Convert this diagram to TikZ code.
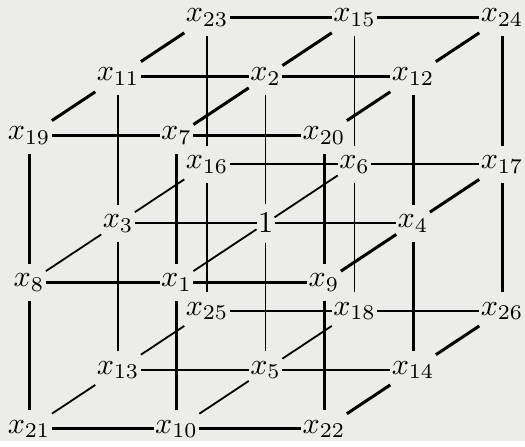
\documentclass[tikz,border=0pt]{standalone}
\usepackage{amsmath,amssymb}
\usepackage{xcolor}
\usepackage{tikz}
\definecolor{GrisFondo}{RGB}{236,236,233}

\begin{document}
\begin{tikzpicture}[x={(1.725cm,0cm)},y={(0cm,1.714cm)},z={(1.041cm,0.690cm)},
  vert/.style={inner xsep=0.3pt,inner ysep=3pt},
  gruesa/.style={line width=1pt},
  fina/.style={line width=0.6pt}]
  \fill[GrisFondo] (-0.34cm,-0.14cm) rectangle (5.80cm,5.01cm);
  \node[vert] (x19) at (0,2,0) {$x_{19}$};
  \node[vert] (x7) at (1,2,0) {$x_{7}$};
  \node[vert] (x20) at (2,2,0) {$x_{20}$};
  \node[vert] (x8) at (0,1,0) {$x_{8}$};
  \node[vert] (x1) at (1,1,0) {$x_{1}$};
  \node[vert] (x9) at (2,1,0) {$x_{9}$};
  \node[vert] (x21) at (0,0,0) {$x_{21}$};
  \node[vert] (x10) at (1,0,0) {$x_{10}$};
  \node[vert] (x22) at (2,0,0) {$x_{22}$};
  \node[vert] (x11) at (0,2,1) {$x_{11}$};
  \node[vert] (x2) at (1,2,1) {$x_{2}$};
  \node[vert] (x12) at (2,2,1) {$x_{12}$};
  \node[vert] (x3) at (0,1,1) {$x_{3}$};
  \node[vert] (uno) at (1,1,1) {$1$};
  \node[vert] (x4) at (2,1,1) {$x_{4}$};
  \node[vert] (x13) at (0,0,1) {$x_{13}$};
  \node[vert] (x5) at (1,0,1) {$x_{5}$};
  \node[vert] (x14) at (2,0,1) {$x_{14}$};
  \node[vert] (x23) at (0,2,2) {$x_{23}$};
  \node[vert] (x15) at (1,2,2) {$x_{15}$};
  \node[vert] (x24) at (2,2,2) {$x_{24}$};
  \node[vert] (x16) at (0,1,2) {$x_{16}$};
  \node[vert] (x6) at (1,1,2) {$x_{6}$};
  \node[vert] (x17) at (2,1,2) {$x_{17}$};
  \node[vert] (x25) at (0,0,2) {$x_{25}$};
  \node[vert] (x18) at (1,0,2) {$x_{18}$};
  \node[vert] (x26) at (2,0,2) {$x_{26}$};
  \draw[gruesa] (x19)--(x7)--(x20);
  \draw[gruesa] (x11)--(x2)--(x12);
  \draw[gruesa] (x23)--(x15)--(x24);
  \draw[gruesa] (x8)--(x1)--(x9);
  \draw[gruesa] (x21)--(x10)--(x22);
  \draw[fina] (x3)--(uno)--(x4);
  \draw[fina] (x16)--(x6)--(x17);
  \draw[fina] (x13)--(x5)--(x14);
  \draw[fina] (x25)--(x18)--(x26);
  \draw[gruesa] (x19)--(x8)--(x21);
  \draw[gruesa] (x7)--(x1)--(x10);
  \draw[gruesa] (x20)--(x9)--(x22);
  \draw[gruesa] (x12)--(x4)--(x14);
  \draw[gruesa] (x24)--(x17)--(x26);
  \draw[fina] (x11)--(x3)--(x13);
  \draw[fina] (x2)--(uno)--(x5);
  \draw[fina] (x23)--(x16)--(x25);
  \draw[fina] (x15)--(x6)--(x18);
  \draw[gruesa] (x19)--(x11)--(x23);
  \draw[gruesa] (x7)--(x2)--(x15);
  \draw[gruesa] (x20)--(x12)--(x24);
  \draw[gruesa] (x9)--(x4)--(x17);
  \draw[gruesa] (x22)--(x14)--(x26);
  \draw[fina] (x8)--(x3)--(x16);
  \draw[fina] (x1)--(uno)--(x6);
  \draw[fina] (x21)--(x13)--(x25);
  \draw[fina] (x10)--(x5)--(x18);
\end{tikzpicture}
\end{document}
